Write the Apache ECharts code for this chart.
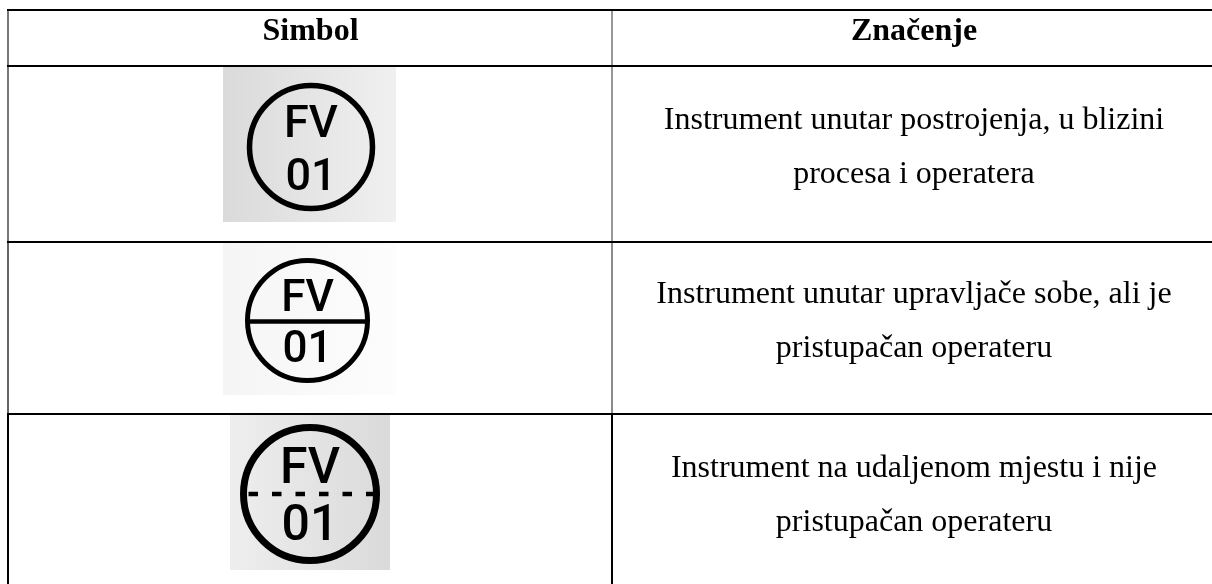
<!DOCTYPE html>
<html><head><meta charset="utf-8">
<style>html,body{margin:0;padding:0;background:#fff}#c{width:1212px;height:584px}</style>
<script src="https://cdn.jsdelivr.net/npm/echarts@6/dist/echarts.min.js"></script>
</head><body><div id="c"></div>
<script>
const headers = ['Simbol', 'Značenje'];
const symbolTop = ['FV', 'FV', 'FV'];
const symbolBottom = ['01', '01', '01'];
const dividerKinds = ['none', 'solid', 'dashed'];
const meaningFirst = ['Instrument unutar postrojenja, u blizini', 'Instrument unutar upravljače sobe, ali je', 'Instrument na udaljenom mjestu i nije'];
const meaningSecond = ['procesa i operatera', 'pristupačan operateru', 'pristupačan operateru'];

const W = 1212, H = 584;
const SERIF = '"Liberation Serif"';
const SANS = 'Roboto';
const colX = [8, 612, 1212];
const rowY = [10, 66, 242, 414];
const hWidths = [2, 2, 2, 2];
const vShades = [['#777', 2, 1.5], ['#777', 2, 1.5], ['#666', 2, 1.5], ['#000', 2, 2]];
const headerCenter = [310.5, 914];
const headerBase = 40;
const meaningCenter = 914;
const meaningBase = [[129, 183], [303, 357], [477, 531]];
const panel = [
  {x0:223,x1:396,y0:67,y1:222,c0:'#dadada',c1:'#f0f0f0',cx:311,cy:147,r:61.5,lw:5.5,fs:45,ty:137,by:190},
  {x0:223,x1:397,y0:243,y1:395,c0:'#f5f5f5',c1:'#fdfdfd',cx:307.5,cy:320.5,r:60,lw:5,fs:44,ty:311,by:362},
  {x0:230,x1:390,y0:415,y1:570,c0:'#eeeeee',c1:'#dadada',cx:310,cy:494,r:66.5,lw:7,fs:50,ty:483,by:540}
];

const chart = echarts.init(document.getElementById('c'), null, {renderer:'canvas'});
function P(api,x,y){ return api.coord([x,y]); }
function line(api,x1,y1,x2,y2,stroke,lw,dash){
  const a=P(api,x1,y1), b=P(api,x2,y2);
  return {type:'line',shape:{x1:a[0],y1:a[1],x2:b[0],y2:b[1]},style:{stroke,lineWidth:lw,lineDash:dash||null,fill:null}};
}
function txt(api,x,base,text,weight,fs,family){
  const a=P(api,x,base-0.26*fs);
  return {type:'text',style:{x:a[0],y:a[1],text,font:weight+' '+fs+'px '+family,fill:'#000',textAlign:'center',textVerticalAlign:'middle'}};
}
function renderFrame(params,api){
  const i=api.value(0), ch=[];
  const y0=rowY[i], y1=i+1<rowY.length?rowY[i+1]:H;
  ch.push(line(api,colX[0],y0,colX[0],y1,vShades[i][0],vShades[i][1]));
  ch.push(line(api,colX[1],y0,colX[1],y1,vShades[i][0],vShades[i][2]));
  ch.push(line(api,colX[0]-1,rowY[i],W,rowY[i],'#000',hWidths[i]));
  return {type:'group',children:ch};
}
function renderRow(params,api){
  const i=api.value(0), p=panel[i], ch=[];
  const a=P(api,p.x0,p.y0), b=P(api,p.x1,p.y1), c=P(api,p.cx,p.cy);
  ch.push({type:'rect',shape:{x:a[0],y:a[1],width:b[0]-a[0],height:b[1]-a[1]},
    style:{fill:new echarts.graphic.LinearGradient(0,0,1,0,[{offset:0,color:p.c0},{offset:1,color:p.c1}])}});
  ch.push({type:'circle',shape:{cx:c[0],cy:c[1],r:p.r},style:{fill:'none',stroke:'#000',lineWidth:p.lw}});
  if(dividerKinds[i]==='solid') ch.push(line(api,p.cx-p.r,p.cy+1,p.cx+p.r,p.cy+1,'#000',4.5));
  if(dividerKinds[i]==='dashed') ch.push(line(api,p.cx-p.r+5,p.cy,p.cx+p.r,p.cy,'#000',4.5,[9.5,14]));
  ch.push(txt(api,p.cx,p.ty,symbolTop[i],'500',p.fs,SANS));
  ch.push(txt(api,p.cx,p.by,symbolBottom[i],'500',p.fs,SANS));
  ch.push(txt(api,meaningCenter,meaningBase[i][0],meaningFirst[i],'normal',32,SERIF));
  ch.push(txt(api,meaningCenter,meaningBase[i][1],meaningSecond[i],'normal',32,SERIF));
  return {type:'group',children:ch};
}
function renderHeader(params,api){
  const i=api.value(0);
  return txt(api,headerCenter[i],headerBase,headers[i],'bold',32,SERIF);
}
chart.setOption({
  animation:false,
  backgroundColor:'#fff',
  grid:{left:0,right:0,top:0,bottom:0},
  xAxis:{type:'value',min:0,max:W,show:false},
  yAxis:{type:'value',min:0,max:H,inverse:true,show:false},
  series:[
    {type:'custom',silent:true,clip:false,renderItem:renderFrame,data:[[0],[1],[2],[3]],encode:{x:0,y:0}},
    {type:'custom',silent:true,clip:false,renderItem:renderHeader,data:headers.map((h,i)=>[i]),encode:{x:0,y:0}},
    {type:'custom',silent:true,clip:false,renderItem:renderRow,data:symbolTop.map((s,i)=>[i]),encode:{x:0,y:0}}
  ]
});
</script></body></html>
